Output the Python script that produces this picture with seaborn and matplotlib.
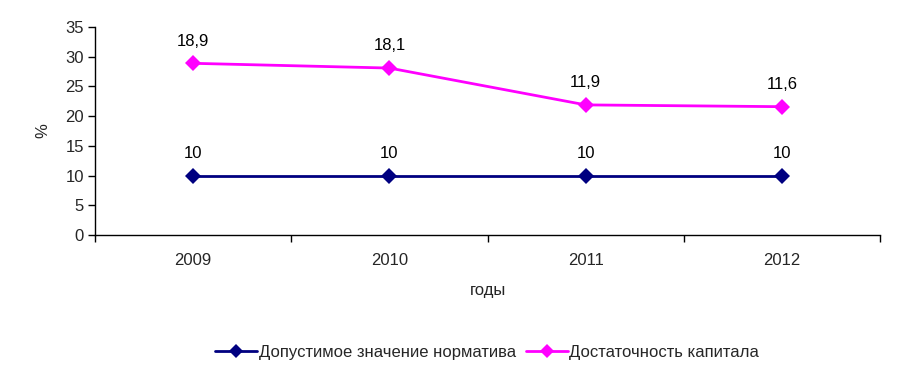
import numpy as np
import pandas as pd
import matplotlib.pyplot as plt
import seaborn as sns

years = ["2009", "2010", "2011", "2012"]
norm = [10, 10, 10, 10]
capital = [18.9, 18.1, 11.9, 11.6]
series_names = ["Допустимое значение норматива", "Достаточность капитала"]
colors = ["#000080", "#FF00FF"]

sns.set_theme(style="white")
plt.rcParams['font.family'] = ['Liberation Sans', 'DejaVu Sans']
plt.rcParams['font.size'] = 12

# stacked line chart: second series drawn on top of the first
stacked = np.array(norm) + np.array(capital)
df = pd.DataFrame({
    "x": list(range(len(years))) * 2,
    "y": list(norm) + list(stacked),
    "label": list(norm) + list(capital),
    "series": [series_names[0]] * 4 + [series_names[1]] * 4,
})

fig = plt.figure(figsize=(8.99, 3.76), dpi=100)
ax = fig.add_axes([0.1057, 0.375, 0.8733, 0.553])

sns.lineplot(ax=ax, data=df, x="x", y="y", hue="series", palette=colors,
             marker="D", markersize=8, markeredgewidth=0, linewidth=2,
             legend=False)

for _, r in df.iterrows():
    txt = f"{r.label:g}".replace(".", ",")
    ax.annotate(txt, (r.x, r.y), xytext=(0, 16), textcoords="offset points",
                ha="center", va="center", fontsize=12, color="black")

ax.set_xlim(-0.5, 3.5)
ax.set_ylim(0, 35)
ax.set_yticks(np.arange(0, 36, 5))
ax.set_xticks(np.arange(-0.5, 3.6, 1), minor=False)
ax.set_xticklabels([])
ax.set_xticks(range(4), minor=True)
ax.set_xticklabels(years, minor=True)
ax.tick_params(axis="x", which="major", length=5, width=1, direction="out", bottom=True, color="black")
ax.tick_params(axis="x", which="minor", length=0, pad=13, labelsize=12)
ax.tick_params(axis="y", length=5, width=1, direction="out", left=True, color="black", labelsize=12, pad=3)
for s in ["top", "right"]:
    ax.spines[s].set_visible(False)
for s in ["left", "bottom"]:
    ax.spines[s].set_color("black")
    ax.spines[s].set_linewidth(1)

ax.set_xlabel("годы", fontsize=12, labelpad=11)
ax.set_ylabel("%", fontsize=12, labelpad=11)

handles = [plt.Line2D([], [], color=c, marker="D", markersize=7, markeredgewidth=0, linewidth=2)
           for c in colors]
fig.legend(handles, series_names, loc="center", bbox_to_anchor=(0.542, 0.063), ncol=2,
           frameon=False, fontsize=12, handlelength=2.5, handletextpad=0.1, columnspacing=0.6)

fig.savefig("out.png", dpi=100)
